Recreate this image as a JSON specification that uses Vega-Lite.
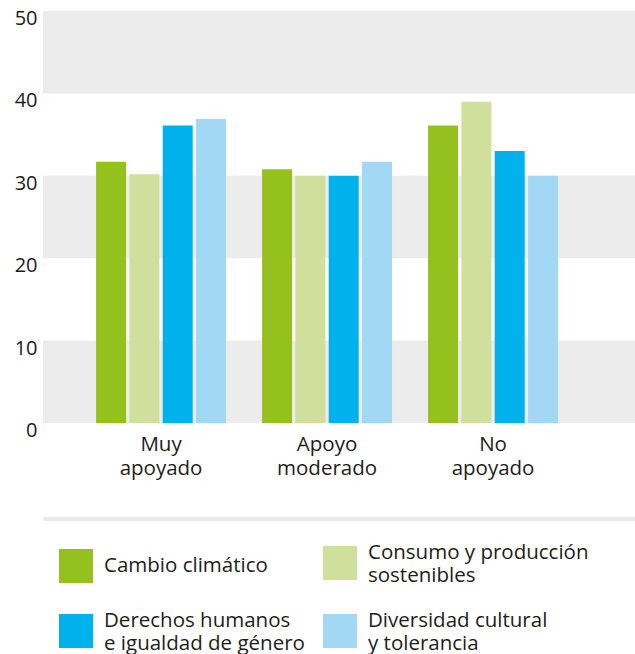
{
  "$schema": "https://vega.github.io/schema/vega-lite/v6.json",
  "width": 592,
  "height": 412,
  "autosize": {"type": "none"},
  "padding": {"left": 43, "top": 11, "right": 0, "bottom": 231},
  "background": "white",
  "config": {
    "view": {"stroke": null},
    "font": "Open Sans",
    "axis": {"labelColor": "#1d1d1b", "labelFont": "Open Sans"},
    "legend": {"labelColor": "#1d1d1b", "labelFont": "Open Sans"}
  },
  "datasets": {
    "bandas": [
      {"desde": 0, "hasta": 10},
      {"desde": 20, "hasta": 30},
      {"desde": 40, "hasta": 50}
    ],
    "valores": [
      {"grupo": "Muy apoyado", "tema": "Cambio climático", "valor": 31.7},
      {"grupo": "Muy apoyado", "tema": "Consumo y producción sostenibles", "valor": 30.2},
      {"grupo": "Muy apoyado", "tema": "Derechos humanos e igualdad de género", "valor": 36.1},
      {"grupo": "Muy apoyado", "tema": "Diversidad cultural y tolerancia", "valor": 36.9},
      {"grupo": "Apoyo moderado", "tema": "Cambio climático", "valor": 30.8},
      {"grupo": "Apoyo moderado", "tema": "Consumo y producción sostenibles", "valor": 30.0},
      {"grupo": "Apoyo moderado", "tema": "Derechos humanos e igualdad de género", "valor": 30.0},
      {"grupo": "Apoyo moderado", "tema": "Diversidad cultural y tolerancia", "valor": 31.7},
      {"grupo": "No apoyado", "tema": "Cambio climático", "valor": 36.1},
      {"grupo": "No apoyado", "tema": "Consumo y producción sostenibles", "valor": 39.0},
      {"grupo": "No apoyado", "tema": "Derechos humanos e igualdad de género", "valor": 33.0},
      {"grupo": "No apoyado", "tema": "Diversidad cultural y tolerancia", "valor": 30.0}
    ]
  },
  "layer": [
    {
      "data": {"name": "bandas"},
      "mark": {"type": "rect", "color": "#ececec"},
      "encoding": {
        "y": {
          "field": "desde", "type": "quantitative",
          "scale": {"domain": [0, 50], "nice": false, "zero": true},
          "axis": {"title": null, "values": [0, 10, 20, 30, 40, 50], "grid": false, "domain": false, "ticks": false, "labelFontSize": 20, "labelPadding": 6, "labelOffset": 7.5}
        },
        "y2": {"field": "hasta"}
      }
    },
    {
      "data": {"name": "valores"},
      "mark": {"type": "bar"},
      "encoding": {
        "x": {
          "field": "grupo", "type": "nominal",
          "sort": ["Muy apoyado", "Apoyo moderado", "No apoyado"],
          "scale": {"paddingInner": 0.2169, "paddingOuter": 0.3916, "align": 0.408},
          "axis": {"title": null, "domain": false, "ticks": false, "labelAngle": 0, "labelFontSize": 20.5, "labelLineHeight": 24, "labelPadding": 11,
            "labelExpr": "datum.label == 'Muy apoyado' ? ['Muy', 'apoyado'] : datum.label == 'Apoyo moderado' ? ['Apoyo', 'moderado'] : ['No', 'apoyado']"}
        },
        "xOffset": {
          "field": "tema", "type": "nominal",
          "sort": ["Cambio climático", "Consumo y producción sostenibles", "Derechos humanos e igualdad de género", "Diversidad cultural y tolerancia"],
          "scale": {"paddingInner": 0.1, "paddingOuter": 0}
        },
        "y": {
          "field": "valor", "type": "quantitative",
          "scale": {"domain": [0, 50], "nice": false, "zero": true},
          "axis": {"title": null, "values": [0, 10, 20, 30, 40, 50], "grid": false, "domain": false, "ticks": false, "labelFontSize": 20, "labelPadding": 6, "labelOffset": 7.5}
        },
        "color": {
          "field": "tema", "type": "nominal",
          "scale": {
            "domain": ["Cambio climático", "Consumo y producción sostenibles", "Derechos humanos e igualdad de género", "Diversidad cultural y tolerancia"],
            "range": ["#95c11f", "#d0df9c", "#00b1eb", "#a3d8f5"]
          },
          "legend": {
            "title": null,
            "orient": "none",
            "legendX": 16,
            "legendY": 535,
            "direction": "horizontal",
            "columns": 2,
            "columnPadding": 18,
            "rowPadding": 25,
            "padding": 0,
            "symbolType": "square",
            "symbolSize": 1156,
            "symbolStrokeWidth": 0,
            "symbolOpacity": 1,
            "labelFontSize": 20.5,
            "labelOffset": 11,
            "labelLimit": 400,
            "labelBaseline": {"expr": "datum.value == 'Cambio climático' ? 'middle' : 'bottom'"},
            "labelExpr": "datum.label == 'Consumo y producción sostenibles' ? ['Consumo y producción', 'sostenibles'] : datum.label == 'Derechos humanos e igualdad de género' ? ['Derechos humanos', 'e igualdad de género'] : datum.label == 'Diversidad cultural y tolerancia' ? ['Diversidad cultural', 'y tolerancia'] : datum.label"
          }
        }
      }
    },
    {
      "data": {"name": "valores"},
      "mark": {"type": "bar", "opacity": 0},
      "encoding": {
        "x": {
          "field": "grupo", "type": "nominal",
          "sort": ["Muy apoyado", "Apoyo moderado", "No apoyado"],
          "axis": {"title": null, "orient": "bottom", "offset": 95.5, "domain": true, "domainColor": "#e9e9e9", "domainWidth": 4, "ticks": false, "labels": false}
        }
      }
    }
  ],
  "resolve": {"axis": {"x": "independent"}}
}
